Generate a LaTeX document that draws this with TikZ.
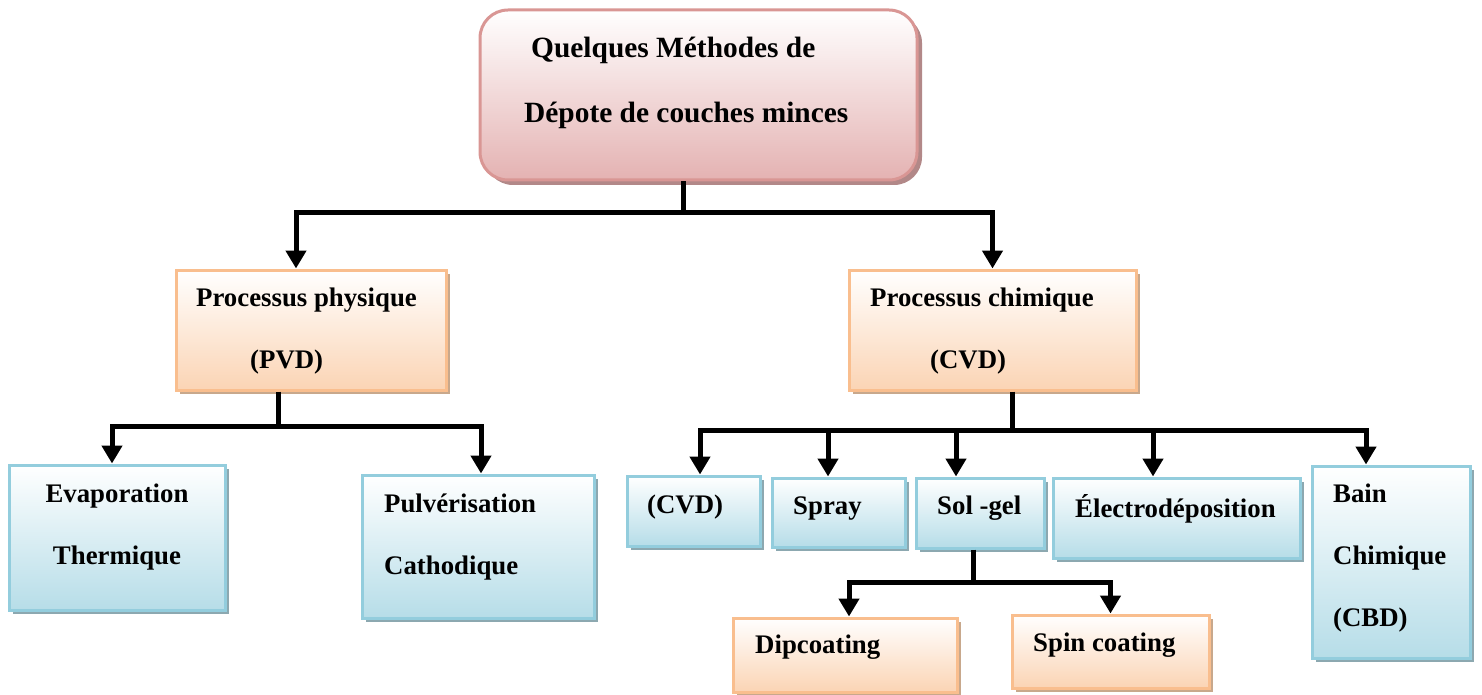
\documentclass[tikz,border=0pt]{standalone}
\usepackage{fontspec}
\setmainfont{Liberation Serif}
\usepackage{tikz}
\usetikzlibrary{arrows.meta, shadows}
\definecolor{rootfill}{RGB}{228,178,178}
\definecolor{rootline}{RGB}{217,150,148}
\definecolor{rootshade}{RGB}{178,136,136}
\definecolor{procfill}{RGB}{251,212,180}
\definecolor{procline}{RGB}{249,190,142}
\definecolor{procshade}{RGB}{200,168,140}
\definecolor{methfill}{RGB}{182,221,232}
\definecolor{methline}{RGB}{147,205,221}
\definecolor{methshade}{RGB}{140,168,176}

\begin{document}
\begin{tikzpicture}[x=1pt, y=-1pt,
        basebox/.style={rectangle, line width=3pt, inner sep=0pt},
        rootbox/.style={basebox, rounded corners=28pt, draw=rootline, top color=white, bottom color=rootfill,
          drop shadow={shadow xshift=5pt, shadow yshift=-5pt, fill=rootshade, opacity=1}},
        procbox/.style={basebox, draw=procline, top color=white, bottom color=procfill,
          drop shadow={shadow xshift=4pt, shadow yshift=-4pt, fill=procshade, opacity=1}},
        methbox/.style={basebox, draw=methline, top color=white, bottom color=methfill,
          drop shadow={shadow xshift=4pt, shadow yshift=-4pt, fill=methshade, opacity=1}},
        txt/.style={font=\fontsize{26.8}{62}\selectfont\bfseries, inner sep=0pt, align=left, anchor=west},
        bar/.style={line width=5pt, black},
        arr/.style={-{Triangle[width=20pt,length=18pt]}, line width=5pt, black}
      ]
        \useasboundingbox (0,0) rectangle (1482,695);
        % boxes
        \node[rootbox, minimum width=437pt, minimum height=170pt] (root) at (698.5,95) {};
        \node[procbox, minimum width=270pt, minimum height=120pt] (pvd) at (311,330) {};
        \node[procbox, minimum width=287pt, minimum height=120pt] (cvd) at (992.5,330) {};
        \node[methbox, minimum width=216pt, minimum height=145pt] (evap) at (117,537.5) {};
        \node[methbox, minimum width=232pt, minimum height=143pt] (pulv) at (478,546.5) {};
        \node[methbox, minimum width=133pt, minimum height=70pt] (cvdm) at (693.5,511) {};
        \node[methbox, minimum width=133pt, minimum height=69pt] (spray) at (838.5,512.5) {};
        \node[methbox, minimum width=128pt, minimum height=70pt] (solgel) at (980,513) {};
        \node[methbox, minimum width=247pt, minimum height=80pt] (electro) at (1176.5,518) {};
        \node[methbox, minimum width=158pt, minimum height=192pt] (bain) at (1391,562) {};
        \node[procbox, minimum width=224pt, minimum height=74pt] (dip) at (845,655) {};
        \node[procbox, minimum width=197pt, minimum height=73pt] (spin) at (1110.5,651.5) {};
        % texts
        \node[txt, font=\fontsize{29.4}{65}\selectfont\bfseries] (root-t) at (524,83) {\hspace*{7pt}Quelques Méthodes de\\Dépote de couches minces};
        \node[txt] (pvd-t) at (196,331.5) {Processus physique\\\hspace*{54pt}(PVD)};
        \node[txt] (cvd-t) at (870,331.5) {Processus chimique\\\hspace*{60pt}(CVD)};
        \node[txt, align=center, anchor=center] (evap-t) at (117,527.5) {Evaporation\\Thermique};
        \node[txt] (pulv-t) at (384,537) {Pulvérisation\\Cathodique};
        \node[txt] (cvdm-t) at (647,507.5) {(CVD)};
        \node[txt] (spray-t) at (793,508.5) {Spray};
        \node[txt] (solgel-t) at (937,508.5) {Sol -gel};
        \node[txt] (electro-t) at (1075,509) {Électrodéposition};
        \node[txt] (bain-t) at (1333,558.5) {Bain\\Chimique\\(CBD)};
        \node[txt] (dip-t) at (755,647.5) {Dipcoating};
        \node[txt] (spin-t) at (1033,645.5) {Spin coating};
        % connectors
        \draw[bar] ([xshift=-15.5pt]root.south) -- ++(0,31) coordinate (rootbus);
        \draw[arr] (rootbus) -| ([xshift=-15pt]pvd.north);
        \draw[arr] (rootbus) -| (cvd.north);
        \draw[bar] ([xshift=-33pt]pvd.south) -- ++(0,35) coordinate (pvdbus);
        \draw[arr] (pvdbus) -| ([xshift=-5pt]evap.north);
        \draw[arr] (pvdbus) -| ([xshift=3pt]pulv.north);
        \draw[bar] ([xshift=19.5pt]cvd.south) -- ++(0,39) coordinate (cvdbus);
        \draw[arr] (cvdbus) -| ([xshift=6.5pt]cvdm.north);
        \draw[arr] (cvdbus) -| ([xshift=-10.5pt]spray.north);
        \draw[arr] (cvdbus) -| ([xshift=-24pt]solgel.north);
        \draw[arr] (cvdbus) -| ([xshift=-23.5pt]electro.north);
        \draw[arr] (cvdbus) -| ([xshift=-25pt]bain.north);
        \draw[bar] ([xshift=-7pt]solgel.south) -- ++(0,33) coordinate (solbus);
        \draw[arr] (solbus) -| ([xshift=4pt]dip.north);
        \draw[arr] (solbus) -| (spin.north);
      \end{tikzpicture}
\end{document}
